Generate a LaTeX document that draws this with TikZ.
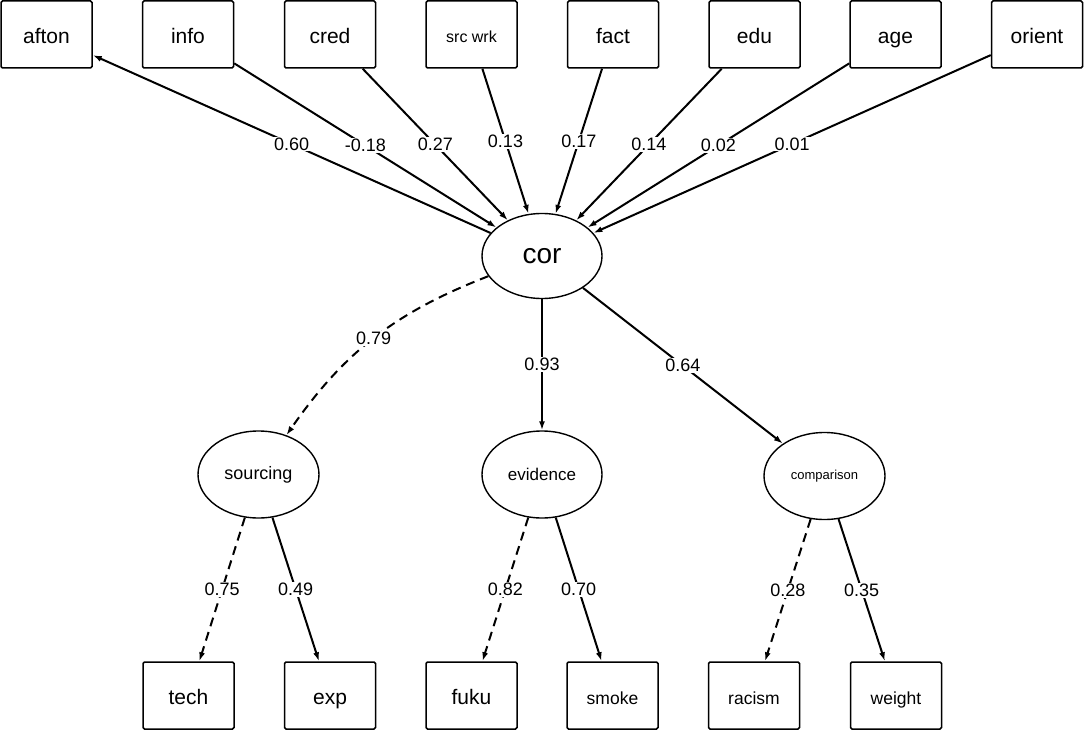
\documentclass[tikz,border=0pt]{standalone}
\usepackage{fontspec}
\setmainfont{Liberation Sans}
\usetikzlibrary{shapes.geometric,arrows.meta}
\begin{document}
\begin{tikzpicture}[x=1pt,y=-1pt,
 obs/.style={draw,line width=1.5pt,rounded corners=1.5pt,minimum width=91pt,minimum height=67pt,inner sep=0pt,text height=18pt,text depth=0pt,font=\fontsize{21}{24}\selectfont},
 obssm/.style={obs,text height=17pt,font=\fontsize{17.5}{20}\selectfont},
 lat/.style={draw,ellipse,line width=1.4pt,inner sep=0pt,minimum width=121pt,minimum height=87pt},
 arr/.style={line width=2pt,-{Latex[length=9pt,width=6pt]}},
 darr/.style={arr,dash pattern=on 9pt off 6pt},
 lbl/.style={fill=white,inner sep=1pt,font=\fontsize{18}{20}\selectfont}]
\useasboundingbox (0,0) rectangle (1084,730);
% top row
\node[obs] (afton) at (46.5,34.5) {afton};
\node[obs] (info) at (188,34.5) {info};
\node[obs] (cred) at (330,34.5) {cred};
\node[obs,text height=16pt,font=\fontsize{16}{18}\selectfont] (srcwrk) at (471.5,34.5) {src wrk};
\node[obs] (fact) at (613,34.5) {fact};
\node[obs] (edu) at (754.5,34.5) {edu};
\node[obs] (age) at (895.5,34.5) {age};
\node[obs] (orient) at (1037,34.5) {orient};
% latent
\node[lat,minimum width=120pt,minimum height=85pt,font=\fontsize{28}{30}\selectfont] (cor) at (542,256) {cor};
\node[lat,font=\fontsize{18}{20}\selectfont] (sourcing) at (258.5,474.5) {sourcing};
\node[lat,minimum width=120pt,font=\fontsize{17}{20}\selectfont] (evidence) at (542,474.5) {evidence};
\node[lat,font=\fontsize{13}{15}\selectfont] (comparison) at (824.5,476) {comparison};
% bottom row
\node[obs] (tech) at (188.5,695.5) {tech};
\node[obs] (exp) at (330,695.5) {exp};
\node[obs] (fuku) at (471.5,695.5) {fuku};
\node[obssm] (smoke) at (612.5,695.5) {smoke};
\node[obssm] (racism) at (754,695.5) {racism};
\node[obssm] (weight) at (896,695.5) {weight};
% regressions
\draw[arr] (cor) -- node[lbl]{0.60} (afton);
\draw[arr] (info) -- node[lbl]{-0.18} (cor);
\draw[arr] (cred) -- node[lbl]{0.27} (cor);
\draw[arr] (srcwrk) -- node[lbl]{0.13} (cor);
\draw[arr] (fact) -- node[lbl]{0.17} (cor);
\draw[arr] (edu) -- node[lbl]{0.14} (cor);
\draw[arr] (age) -- node[lbl]{0.02} (cor);
\draw[arr] (orient) -- node[lbl]{0.01} (cor);
% loadings
\draw[darr] (cor) to[bend right=17] node[lbl]{0.79} (sourcing);
\draw[arr] (cor) -- node[lbl]{0.93} (evidence);
\draw[arr] (cor) -- node[lbl]{0.64} (comparison);
\draw[darr] (sourcing) -- node[lbl]{0.75} (tech);
\draw[arr] (sourcing) -- node[lbl]{0.49} (exp);
\draw[darr] (evidence) -- node[lbl]{0.82} (fuku);
\draw[arr] (evidence) -- node[lbl]{0.70} (smoke);
\draw[darr] (comparison) -- node[lbl]{0.28} (racism);
\draw[arr] (comparison) -- node[lbl]{0.35} (weight);
\end{tikzpicture}
\end{document}
